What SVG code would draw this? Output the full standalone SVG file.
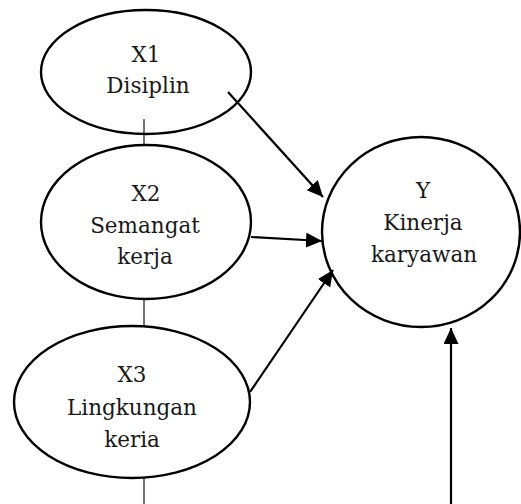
<svg xmlns="http://www.w3.org/2000/svg" width="521" height="504" viewBox="0 0 521 504">
<style>
.node ellipse{fill:#fff;stroke:#000;stroke-width:2.4}
.node text{font-family:"DejaVu Serif","Liberation Serif",serif;font-size:21.5px;fill:#1a1a1a;text-anchor:middle}
.thin{stroke:#000;stroke-width:1.1;fill:none}
.arr{stroke:#000;stroke-width:2.2;fill:none;marker-end:url(#ah)}
</style>
<defs>
<marker id="ah" markerUnits="userSpaceOnUse" markerWidth="17" markerHeight="16" refX="16" refY="7.5" orient="auto">
<path d="M0,0 L16,7.5 L0,15 Z" fill="#000"/>
</marker>
</defs>
<rect width="521" height="504" fill="#fff"/>
<g id="x1" class="node">
<ellipse cx="146" cy="72" rx="105" ry="62"/>
<text x="146" y="62">X1</text>
<text x="148" y="93">Disiplin</text>
</g>
<g id="x2" class="node">
<ellipse cx="146" cy="222" rx="105" ry="77"/>
<text x="146" y="201">X2</text>
<text x="145" y="233">Semangat</text>
<text x="145" y="264">kerja</text>
</g>
<g id="x3" class="node">
<ellipse cx="132" cy="402" rx="118" ry="76"/>
<text x="132" y="382">X3</text>
<text x="132" y="415">Lingkungan</text>
<text x="132" y="447">keria</text>
</g>
<g id="y" class="node">
<ellipse cx="421" cy="232" rx="99" ry="95"/>
<text x="423" y="198">Y</text>
<text x="423" y="230">Kinerja</text>
<text x="424" y="262">karyawan</text>
</g>
<g id="connectors">
<line class="thin" x1="144" y1="119" x2="144" y2="145"/>
<line class="thin" x1="144" y1="300" x2="144" y2="327"/>
<line class="thin" x1="144" y1="478" x2="144" y2="504"/>
<line class="arr" x1="228" y1="92" x2="323" y2="197"/>
<line class="arr" x1="251" y1="237" x2="322" y2="241"/>
<line class="arr" x1="250" y1="392" x2="333" y2="270"/>
<line class="arr" x1="451" y1="504" x2="451" y2="328"/>
</g>
</svg>
